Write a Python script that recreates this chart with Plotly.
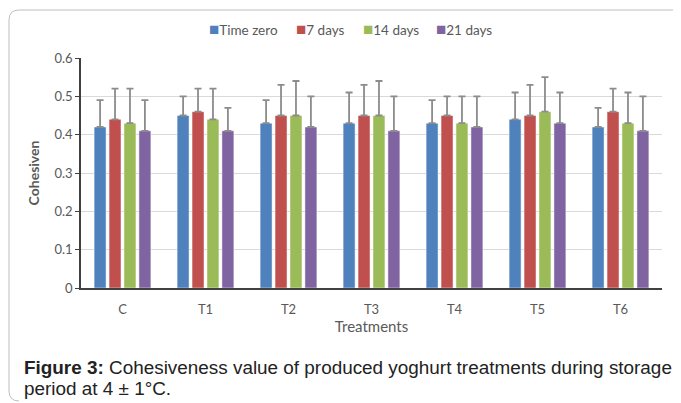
import plotly.graph_objects as go

categories = ["C", "T1", "T2", "T3", "T4", "T5", "T6"]
series_names = ["Time zero", "7 days", "14 days", "21 days"]
time_zero = [0.42, 0.45, 0.43, 0.43, 0.43, 0.44, 0.42]
days_7 = [0.44, 0.46, 0.45, 0.45, 0.45, 0.45, 0.46]
days_14 = [0.43, 0.44, 0.45, 0.45, 0.43, 0.46, 0.43]
days_21 = [0.41, 0.41, 0.42, 0.41, 0.42, 0.43, 0.41]
err_time_zero = [0.07, 0.05, 0.06, 0.08, 0.06, 0.07, 0.05]
err_7 = [0.08, 0.06, 0.08, 0.08, 0.05, 0.08, 0.06]
err_14 = [0.09, 0.08, 0.09, 0.09, 0.07, 0.09, 0.08]
err_21 = [0.08, 0.06, 0.08, 0.09, 0.08, 0.08, 0.09]
y_ticks = [0, 0.1, 0.2, 0.3, 0.4, 0.5, 0.6]
y_tick_labels = ["0", "0.1", "0.2", "0.3", "0.4", "0.5", "0.6"]
colors = ["#4F81BD", "#C0504D", "#9BBB59", "#8064A2"]

W, H = 681, 403
OFF = 8  # page body margin offset
SX0, SX1, SY0, SY1 = 81, 662, 58, 288
L = SX0 - OFF
R = W - (SX1 - OFF)
T = SY0 - OFF
B = H - (SY1 - OFF)
pw = W - L - R
ph = H - T - B

def px(sx):
    return (sx - OFF - L) / pw

def py(sy):
    return (H - B - (sy - OFF)) / ph

fig = go.Figure()
for name, vals, errs, col in zip(series_names, [time_zero, days_7, days_14, days_21],
                                 [err_time_zero, err_7, err_14, err_21], colors):
    fig.add_trace(go.Bar(
        x=categories, y=vals, name=name, showlegend=False,
        marker=dict(color=col, line=dict(color="rgba(255,255,255,0.6)", width=0.8)),
        error_y=dict(type="data", array=errs, symmetric=False, arrayminus=[0] * len(errs),
                     color="#8C8C8C", thickness=1.8, width=3.5),
    ))

# legend built as text items with coloured squares
legend_x = [207, 294, 361, 434]
for n, c, lx in zip(series_names, colors, legend_x):
    fig.add_annotation(text=f'<span style="color:{c};font-size:17px">■</span>{n}',
                       xref="paper", yref="paper", x=px(lx), y=py(28),
                       xanchor="left", yanchor="middle", showarrow=False,
                       font=dict(size=13.5, color="#595959"))

# rounded border box (left/top/bottom visible)
x0, y0, x1, y1 = px(9), py(10), px(720), py(401)
rx, ry = 10 / pw, 10 / ph
fig.add_shape(type="path", xref="paper", yref="paper",
              path=(f"M {x1},{y0} L {x0+rx},{y0} Q {x0},{y0} {x0},{y0-ry} "
                    f"L {x0},{y1+ry} Q {x0},{y1} {x0+rx},{y1}"),
              line=dict(color="#BFBFBF", width=1))

cap_font = dict(family="Liberation Sans, Arial", size=18.9, color="#222222")
fig.add_annotation(text="<b>Figure 3:</b> Cohesiveness value of produced yoghurt treatments during storage",
                   xref="paper", yref="paper", x=px(22), y=py(367), xanchor="left", yanchor="middle",
                   showarrow=False, font=cap_font)
fig.add_annotation(text="period at 4 ± 1°C.",
                   xref="paper", yref="paper", x=px(22), y=py(388), xanchor="left", yanchor="middle",
                   showarrow=False, font=cap_font)

fig.update_layout(
    width=W, height=H,
    margin=dict(l=L, r=R, t=T, b=B, autoexpand=False),
    paper_bgcolor="white", plot_bgcolor="white",
    font=dict(family="Lato, Open Sans, sans-serif", color="#595959", size=13),
    barmode="group", bargap=0.28, bargroupgap=0.2,
    showlegend=False,
    xaxis=dict(showline=True, linecolor="#404040", linewidth=1.5, ticks="outside", ticklen=9,
               tickcolor="rgba(0,0,0,0)",
               tickfont=dict(size=13, color="#595959"),
               title=dict(text="Treatments", font=dict(size=15, color="#595959"), standoff=4)),
    yaxis=dict(range=[0, 0.6], tickvals=y_ticks, ticktext=y_tick_labels, showline=True,
               linecolor="#404040", linewidth=1.5, ticks="outside", ticklen=4, tickcolor="#404040",
               gridcolor="#D9D9D9", gridwidth=1.2, zeroline=False,
               tickfont=dict(size=13, color="#595959"),
               title=dict(text="<b>Cohesiven</b>", font=dict(size=14, color="#595959"), standoff=12)),
)

fig.write_html("out.html")
